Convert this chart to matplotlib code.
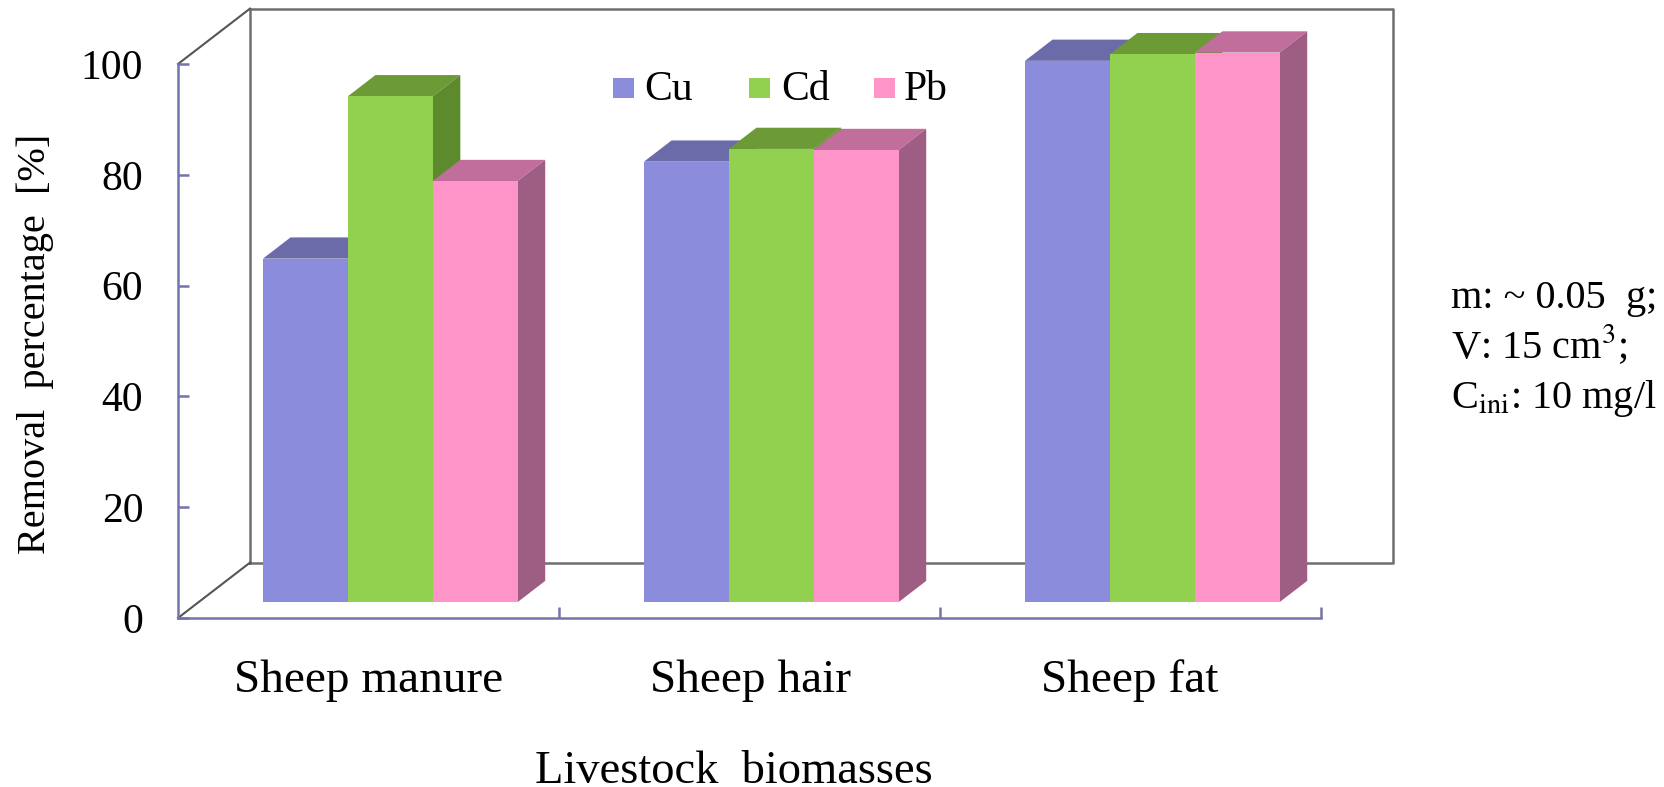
import matplotlib
matplotlib.use("Agg")
import matplotlib.pyplot as plt
from matplotlib.patches import Polygon, Rectangle

categories = ["Sheep manure", "Sheep hair", "Sheep fat"]
series_names = ["Cu", "Cd", "Pb"]
cu_values = [62.0, 79.5, 97.7]
cd_values = [91.3, 81.8, 98.9]
pb_values = [76.0, 81.6, 99.2]
y_ticks = [0, 20, 40, 60, 80, 100]

W, H = 1664, 787
FRONT = ["#8B8CDC", "#92D050", "#FF94C8"]
TOP = ["#6A6BA8", "#6C9A36", "#C26E9C"]
SIDE = ["#5F608F", "#5E8A2E", "#9E5E84"]
AXIS_COLOR = "#7373AE"
WALL_COLOR = "#6E6E6E"

# oblique 3D offsets, in data units (category / percent)
WALL_DX, WALL_DY = 0.189, 10.0
BAR_X0, BAR_Y0 = 0.223, 2.87
BAR_W = 0.2228
DEPTH_DX, DEPTH_DY = 0.0724, 3.83

plt.rcParams["font.family"] = ["Liberation Serif", "DejaVu Serif"]

fig = plt.figure(figsize=(W / 100, H / 100), dpi=100)
# axis box: x 178..1321 px, y 64..618 px
ax = fig.add_axes([178 / W, 1 - 618 / H, (1321 - 178) / W, (618 - 64) / H])
ax.set_xlim(0, 3)
ax.set_ylim(0, 100)
ax.patch.set_visible(False)
for s in ["top", "right"]:
    ax.spines[s].set_visible(False)
for s in ["left", "bottom"]:
    ax.spines[s].set_color(AXIS_COLOR)
    ax.spines[s].set_linewidth(1.8)

# back wall and floor edges
ax.plot([WALL_DX, WALL_DX, 3 + WALL_DX, 3 + WALL_DX, WALL_DX],
        [WALL_DY, 100 + WALL_DY, 100 + WALL_DY, WALL_DY, WALL_DY],
        color=WALL_COLOR, lw=1.8, clip_on=False, zorder=1)
ax.plot([0, WALL_DX], [0, WALL_DY], color="#555555", lw=1.5, clip_on=False, zorder=1)
ax.plot([0, WALL_DX], [100, 100 + WALL_DY], color="#555555", lw=1.5, clip_on=False, zorder=1)

all_values = [cu_values, cd_values, pb_values]
for g in range(len(categories)):
    for s, values in enumerate(all_values):
        v = values[g]
        x0 = g + BAR_X0 + s * BAR_W
        x1 = x0 + BAR_W
        top = BAR_Y0 + v
        # series are drawn left to right, so later fronts cover earlier sides
        z = 2 + s
        ax.add_patch(Polygon([(x0, top), (x1, top), (x1 + DEPTH_DX, top + DEPTH_DY),
                              (x0 + DEPTH_DX, top + DEPTH_DY)],
                             closed=True, fc=TOP[s], ec="none", clip_on=False, zorder=z))
        ax.add_patch(Polygon([(x1, BAR_Y0), (x1 + DEPTH_DX, BAR_Y0 + DEPTH_DY),
                              (x1 + DEPTH_DX, top + DEPTH_DY), (x1, top)],
                             closed=True, fc=SIDE[s], ec="none", clip_on=False, zorder=z))
        ax.bar(x0, v, width=BAR_W, bottom=BAR_Y0, align="edge", color=FRONT[s],
               clip_on=False, zorder=z + 0.5)

ax.set_yticks(y_ticks)
ax.set_xticks(range(1, 4))
ax.set_xticklabels([])
ax.tick_params(axis="both", direction="in", length=8, width=1.8, color=AXIS_COLOR)
ax.tick_params(axis="y", labelsize=30, pad=25)

# category labels sit at their own pixel spots
for name, cx in zip(categories, [369, 750, 1130]):
    fig.text(cx / W, 1 - 692 / H, name, ha="center", va="baseline", fontsize=34, color="black")
fig.text(535 / W, 1 - 783 / H, "Livestock  biomasses", ha="left", va="baseline", fontsize=33.5)
fig.text(35 / W, 1 - 344 / H, "Removal  percentage  [%]", rotation=90, ha="center", va="center", fontsize=29)

# legend
for name, color, px, tx in zip(series_names, FRONT, [613, 749, 874], [644, 781, 904]):
    ax.add_patch(Rectangle((px / W, 1 - 98 / H), 21 / W, 20 / H, transform=fig.transFigure,
                           fc=color, ec="none", clip_on=False, zorder=10))
    fig.text(tx / W, 1 - 100 / H, name, ha="left", va="baseline", fontsize=30)

# conditions note
fig.text(1451 / W, 1 - 308 / H, "m: ~ 0.05  g;", ha="left", va="baseline", fontsize=29)
fig.text(1451 / W, 1 - 358 / H, "V: 15 cm$^{3}$;", ha="left", va="baseline", fontsize=29,
         math_fontfamily="stix")
fig.text(1451 / W, 1 - 408 / H, "C$_{\\mathrm{ini}}$: 10 mg/l", ha="left", va="baseline", fontsize=29,
         math_fontfamily="stix")

fig.savefig("out.png", dpi=100)
